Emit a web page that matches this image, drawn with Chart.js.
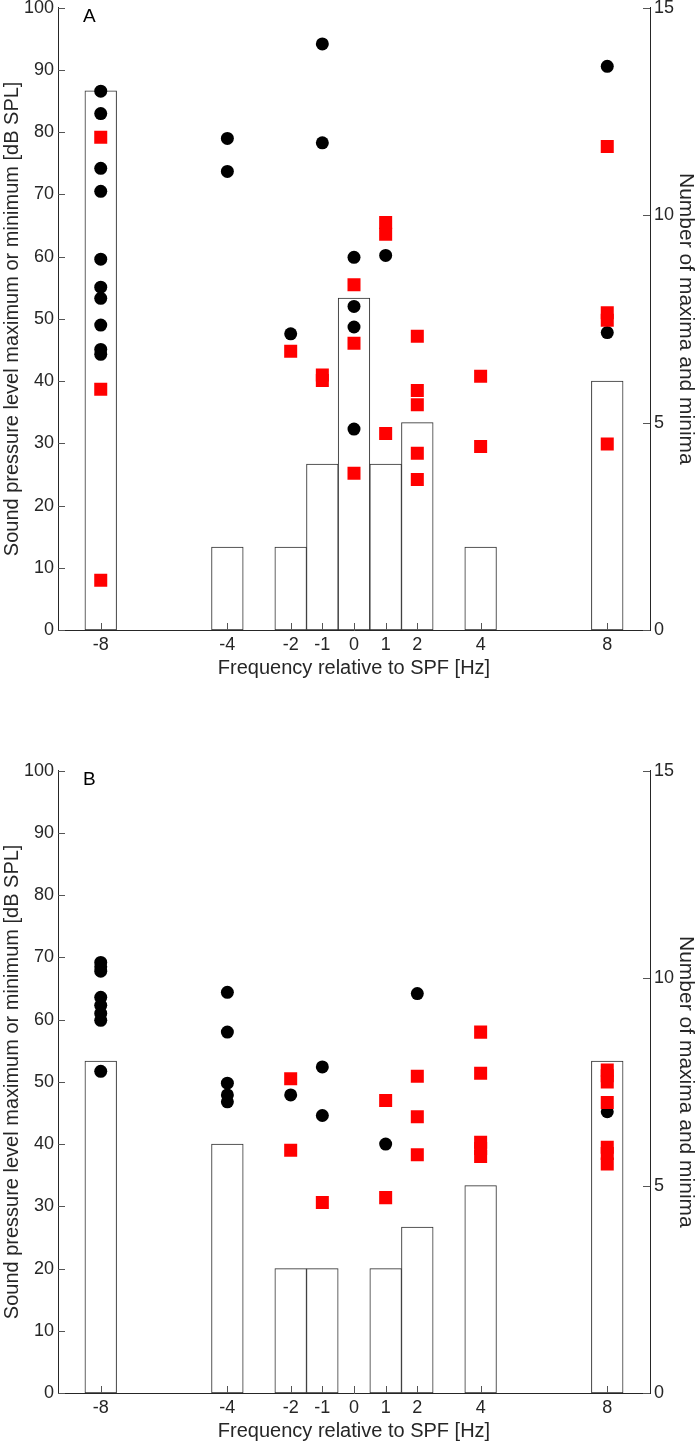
<!DOCTYPE html>
<html>
<head>
<meta charset="utf-8">
<script src="https://cdn.jsdelivr.net/npm/chart.js@4.4.1/dist/chart.umd.min.js"></script>
<style>
  html, body { margin: 0; padding: 0; background: #fff; overflow: hidden; }
  .panel { position: absolute; left: 0; width: 698px; height: 687px; }
  #panelA { top: -7px; }
  #panelB { top: 756px; }
</style>
</head>
<body>
<div class="panel" id="panelA"><canvas id="chartA"></canvas></div>
<div class="panel" id="panelB"><canvas id="chartB"></canvas></div>
<script>
// frequencias (Hz relativo a SPF) e rotulos do eixo x
const freqs = [-8, -4, -2, -1, 0, 1, 2, 4, 8];
const freqTicks = [-8, -4, -2, -1, 0, 1, 2, 4, 8];

// painel A - numero de maximos e minimos (barras)
const countsA = [13, 2, 2, 4, 8, 4, 5, 2, 6];
// painel A - maximos (circulos pretos), [freq, valores dB]
const maximaA = [
  [-8, [86.6, 83.0, 74.2, 70.5, 59.6, 55.1, 53.3, 49.0, 45.1, 44.3]],
  [-4, [79.0, 73.7]],
  [-2, [47.6]],
  [-1, [94.2, 78.3]],
  [0, [59.9, 52.0, 48.7, 32.3]],
  [1, [60.2]],
  [8, [90.6, 47.8]]
];
// painel A - minimos (quadrados vermelhos)
const minimaA = [
  [-8, [79.2, 38.7, 8.0]],
  [-2, [44.8]],
  [-1, [41.0, 40.1]],
  [0, [55.5, 46.1, 25.2]],
  [1, [65.5, 63.6, 31.6]],
  [2, [47.2, 38.5, 36.2, 28.4, 24.2]],
  [4, [40.8, 29.5]],
  [8, [77.7, 51.0, 49.8, 29.9]]
];

// painel B
const countsB = [8, 6, 3, 3, 0, 3, 4, 5, 8];
const maximaB = [
  [-8, [69.2, 68.5, 67.8, 63.6, 62.3, 61.0, 59.9, 51.7]],
  [-4, [64.4, 58.0, 49.8, 47.9, 46.8]],
  [-2, [47.9]],
  [-1, [52.4, 44.6]],
  [1, [40.0]],
  [2, [64.2]],
  [8, [45.2]]
];
const minimaB = [
  [-2, [50.5, 39.0]],
  [-1, [30.6]],
  [1, [47.0, 31.4]],
  [2, [50.9, 44.4, 38.3]],
  [4, [58.0, 51.4, 40.3, 39.3, 38.0]],
  [8, [51.9, 51.0, 50.0, 46.7, 39.5, 38.5, 36.8]]
];

const FONT = '"Liberation Sans", Arial, sans-serif';
const AXIS_COLOR = '#262626';

function toPoints(list) {
  const pts = [];
  list.forEach(([f, vals]) => vals.forEach(v => pts.push({ x: f, y: v })));
  return pts;
}

// ticks para dentro (estilo MATLAB) + letra do painel
const innerTicks = {
  id: 'innerTicks',
  afterDatasetsDraw(chart, args, opts) {
    const { ctx, chartArea } = chart;
    const sx = chart.scales.x, sy = chart.scales.y, sy1 = chart.scales.y1;
    const len = 7;
    ctx.save();
    ctx.strokeStyle = '#555';
    ctx.lineWidth = 1;
    ctx.beginPath();
    sx.ticks.forEach(t => {
      const px = Math.round(sx.getPixelForValue(t.value)) + 0.5;
      ctx.moveTo(px, chartArea.bottom);
      ctx.lineTo(px, chartArea.bottom - len);
    });
    sy.ticks.forEach(t => {
      const py = Math.round(sy.getPixelForValue(t.value)) + 0.5;
      ctx.moveTo(chartArea.left, py);
      ctx.lineTo(chartArea.left + len, py);
    });
    sy1.ticks.forEach(t => {
      const py = Math.round(sy1.getPixelForValue(t.value)) + 0.5;
      ctx.moveTo(chartArea.right, py);
      ctx.lineTo(chartArea.right - len, py);
    });
    ctx.stroke();
    ctx.fillStyle = '#000';
    ctx.font = '19px ' + FONT;
    ctx.textBaseline = 'middle';
    ctx.textAlign = 'left';
    ctx.fillText(opts.letter, chartArea.left + 25, chartArea.top + 9);
    ctx.restore();
  }
};

function makeChart(canvasId, letter, counts, maxima, minima) {
  const ctx = document.getElementById(canvasId).getContext('2d');
  return new Chart(ctx, {
    data: {
      datasets: [
        {
          type: 'scatter',
          label: 'Minima',
          data: toPoints(minima),
          yAxisID: 'y',
          pointStyle: 'rect',
          pointRadius: 9.2,
          pointBackgroundColor: '#ff0000',
          pointBorderWidth: 0,
          order: 0
        },
        {
          type: 'scatter',
          label: 'Maxima',
          data: toPoints(maxima),
          yAxisID: 'y',
          pointStyle: 'circle',
          pointRadius: 6.5,
          pointBackgroundColor: '#000000',
          pointBorderWidth: 0,
          order: 1
        },
        {
          type: 'bar',
          label: 'Number',
          data: freqs.map((f, i) => ({ x: f, y: counts[i] })),
          yAxisID: 'y1',
          backgroundColor: '#ffffff',
          borderColor: '#2e2e2e',
          borderWidth: 1,
          borderSkipped: false,
          categoryPercentage: 1.0,
          barPercentage: 1.0,
          order: 2
        }
      ]
    },
    options: {
      responsive: true,
      maintainAspectRatio: false,
      animation: false,
      layout: { padding: { top: 0, right: 0, bottom: 0, left: 0 } },
      plugins: {
        legend: { display: false },
        tooltip: { enabled: false },
        innerTicks: { letter: letter }
      },
      scales: {
        x: {
          type: 'linear',
          min: -9.35,
          max: 9.35,
          offset: false,
          grid: { display: false, drawTicks: false },
          border: { display: true, color: AXIS_COLOR, width: 1 },
          afterBuildTicks: s => { s.ticks = freqTicks.map(v => ({ value: v })); },
          afterFit: s => { s.height = 50; },
          ticks: { color: AXIS_COLOR, font: { family: FONT, size: 18 }, padding: 4, maxRotation: 0, autoSkip: false },
          title: { display: true, text: 'Frequency relative to SPF [Hz]', color: AXIS_COLOR, font: { family: FONT, size: 20 }, padding: { top: 0, bottom: 0 } }
        },
        y: {
          position: 'left',
          min: 0,
          max: 100,
          grid: { display: false, drawTicks: false },
          border: { display: true, color: AXIS_COLOR, width: 1 },
          afterFit: s => { s.width = 58; },
          ticks: { stepSize: 10, color: AXIS_COLOR, font: { family: FONT, size: 18 }, padding: 4 },
          title: { display: true, text: 'Sound pressure level maximum or minimum [dB SPL]', color: AXIS_COLOR, font: { family: FONT, size: 20 }, padding: { top: 0, bottom: 0 } }
        },
        y1: {
          position: 'right',
          min: 0,
          max: 15,
          grid: { display: false, drawTicks: false },
          border: { display: true, color: AXIS_COLOR, width: 1 },
          afterFit: s => { s.width = 48; },
          ticks: { stepSize: 5, color: AXIS_COLOR, font: { family: FONT, size: 18 }, padding: 4 },
          title: { display: true, text: 'Number of maxima and minima', color: AXIS_COLOR, font: { family: FONT, size: 21 }, padding: { top: 0, bottom: 0 } }
        }
      }
    },
    plugins: [innerTicks]
  });
}

makeChart('chartA', 'A', countsA, maximaA, minimaA);
makeChart('chartB', 'B', countsB, maximaB, minimaB);
</script>
</body>
</html>
